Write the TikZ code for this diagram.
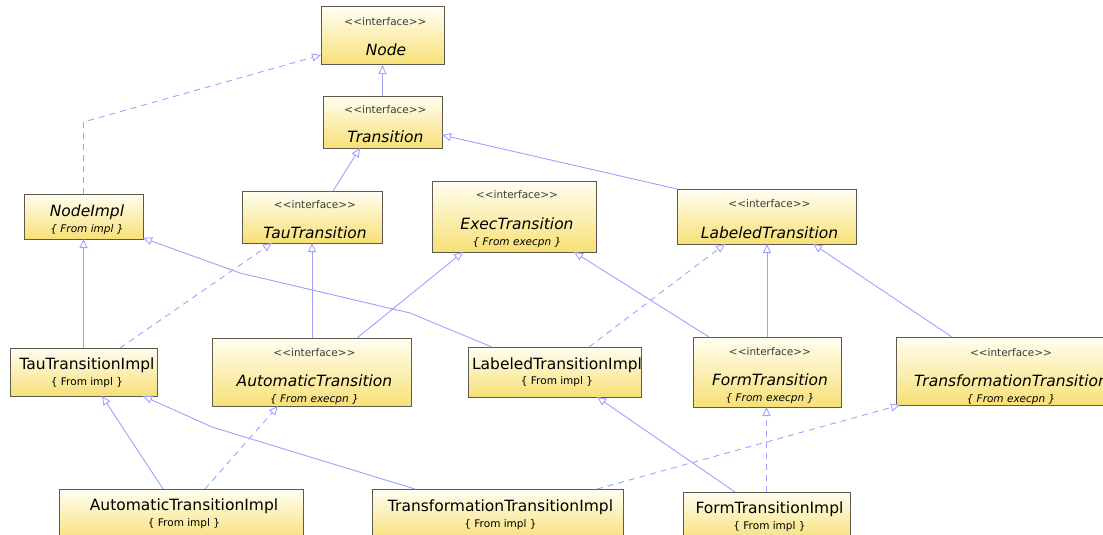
\documentclass[tikz,border=0pt]{standalone}
\usepackage{fontspec}
\setmainfont{DejaVu Sans}
\usetikzlibrary{arrows.meta}

\definecolor{boxtop}{RGB}{255,254,242}
\definecolor{boxbot}{RGB}{247,224,118}
\definecolor{boxline}{RGB}{95,90,80}
\definecolor{edgeblue}{RGB}{160,160,255}
\definecolor{stereogray}{RGB}{60,60,60}

% kerns keep the font mapping from merging the angle brackets into guillemets
\newcommand\stereo{<\kern0pt<interface>\kern0pt>}

\tikzset{
  classbox/.style={draw=boxline, line width=1pt, top color=boxtop, bottom color=boxbot,
                   inner sep=0pt, outer sep=0pt},
  stereotxt/.style={anchor=base, inner sep=0pt, text=stereogray, font=\fontsize{10.5}{12}\selectfont},
  nametxt/.style={anchor=base, inner sep=0pt, font=\fontsize{15.5}{18}\selectfont},
  absname/.style={anchor=base, inner sep=0pt, font=\fontsize{15.5}{18}\selectfont\itshape},
  srctxt/.style={anchor=base, inner sep=0pt, font=\fontsize{10.5}{12}\selectfont},
  abssrc/.style={anchor=base, inner sep=0pt, font=\fontsize{10.5}{12}\selectfont\itshape},
  gen/.style={draw=edgeblue, line width=0.9pt, -{Triangle[length=9pt,width=8pt,fill=white]}},
  real/.style={gen, dash pattern=on 6pt off 5pt},
}

% \umlclass{name}{left}{top}{right}{bottom}
\newcommand\umlclass[5]{%
  \node[classbox, minimum width={(#4-#2)*1pt}, minimum height={(#5-#3)*1pt}]
    (#1) at ({(#2+#4)/2},{(#3+#5)/2}) {};}

\begin{document}
\begin{tikzpicture}[x=1pt, y=-1pt]
\useasboundingbox (0,0) rectangle (1103,535);
\clip (0,0) rectangle (1103,535);

% class boxes
\umlclass{node}{321}{7}{444}{65}
\umlclass{trans}{323}{96}{442}{148}
\umlclass{nodeimpl}{24}{194}{143}{239}
\umlclass{tau}{242}{191}{382}{243}
\umlclass{exec}{432}{181}{596}{252}
\umlclass{lt}{677}{189}{856}{244}
\umlclass{tauimpl}{10}{348}{157}{396}
\umlclass{autot}{212}{338}{411}{406}
\umlclass{lti}{468}{347}{641}{397}
\umlclass{formt}{693}{337}{841}{407}
\umlclass{trt}{896}{337}{1120}{405}
\umlclass{atimpl}{59}{489}{303}{541}
\umlclass{ttimpl}{372}{489}{623}{541}
\umlclass{ftimpl}{683}{492}{850}{541}

% class texts
\node[stereotxt] (node-st) at (385.5,26) {\stereo};
\node[absname]   (node-nm) at (386,56) {Node};

\node[stereotxt] (trans-st) at (385.5,113) {\stereo};
\node[absname]   (trans-nm) at (385.5,142) {Transition};

\node[absname] (nodeimpl-nm) at (87,216) {NodeImpl};
\node[abssrc]  (nodeimpl-sr) at (87,232) {\{ From impl \}};

\node[stereotxt] (tau-st) at (315,208) {\stereo};
\node[absname]   (tau-nm) at (315,238) {TauTransition};

\node[stereotxt] (exec-st) at (517,198) {\stereo};
\node[absname]   (exec-nm) at (517,229) {ExecTransition};
\node[abssrc]    (exec-sr) at (517,245) {\{ From execpn \}};

\node[stereotxt] (lt-st) at (769.5,207) {\stereo};
\node[absname]   (lt-nm) at (769.5,238) {LabeledTransition};

\node[nametxt] (tauimpl-nm) at (87,369) {TauTransitionImpl};
\node[srctxt]  (tauimpl-sr) at (87,385) {\{ From impl \}};

\node[stereotxt] (autot-st) at (314.5,356) {\stereo};
\node[absname]   (autot-nm) at (314.5,386) {AutomaticTransition};
\node[abssrc]    (autot-sr) at (314.5,402) {\{ From execpn \}};

\node[nametxt] (lti-nm) at (557,369) {LabeledTransitionImpl};
\node[srctxt]  (lti-sr) at (557,384) {\{ From impl \}};

\node[stereotxt] (formt-st) at (770,355) {\stereo};
\node[absname]   (formt-nm) at (770,385) {FormTransition};
\node[abssrc]    (formt-sr) at (770,401) {\{ From execpn \}};

\node[stereotxt] (trt-st) at (1011,356) {\stereo};
\node[absname]   (trt-nm) at (1011,386) {TransformationTransition};
\node[abssrc]    (trt-sr) at (1011,402) {\{ From execpn \}};

\node[nametxt] (atimpl-nm) at (184,510) {AutomaticTransitionImpl};
\node[srctxt]  (atimpl-sr) at (184,526) {\{ From impl \}};

\node[nametxt] (ttimpl-nm) at (500.5,511) {TransformationTransitionImpl};
\node[srctxt]  (ttimpl-sr) at (500.5,527) {\{ From impl \}};

\node[nametxt] (ftimpl-nm) at (769.5,513) {FormTransitionImpl};
\node[srctxt]  (ftimpl-sr) at (769.5,529) {\{ From impl \}};

% bend points of routed connectors
\coordinate (nib) at (83.5,122);
\coordinate (ltib1) at (410,313);
\coordinate (ltib2) at (240,273);
\coordinate (ttib) at (212,427);

% generalizations and realizations
\draw[gen] (trans.north) -- (trans.north |- node.south);
\draw[real] (nodeimpl.north) -- (nib) -- ([yshift=-19pt]node.west);
\draw[gen] ([xshift=91pt]tau.north west) -- ([xshift=37pt]trans.south west);
\draw[gen] (lt.north west) -- ([yshift=-13pt]trans.east);
\draw[gen] (tauimpl.north -| nodeimpl.south) -- (nodeimpl.south);
\draw[real] ([xshift=110pt]tauimpl.north west) -- ([xshift=30pt]tau.south west);
\draw[gen] (autot.north -| tau.south) -- (tau.south);
\draw[gen] ([xshift=145pt]autot.north west) -- ([xshift=31pt]exec.south west);
\draw[gen] ([xshift=24pt]lti.north west) -- (ltib1) -- (ltib2) -- ([yshift=1pt]nodeimpl.south east);
\draw[real] ([xshift=121pt]lti.north west) -- ([xshift=48pt]lt.south west);
\draw[gen] ([xshift=16pt]formt.north west) -- ([xshift=142pt]exec.south west);
\draw[gen] (formt.north) -- (formt.north |- lt.south);
\draw[gen] ([xshift=56pt]trt.north west) -- ([xshift=136pt]lt.south west);
\draw[gen] ([xshift=104pt]atimpl.north west) -- ([xshift=92pt]tauimpl.south west);
\draw[real] ([xshift=146pt]atimpl.north west) -- ([xshift=66pt]autot.south west);
\draw[gen] ([xshift=43pt]ttimpl.north west) -- (ttib) -- ([xshift=133pt]tauimpl.south west);
\draw[real] ([xshift=225pt]ttimpl.north west) -- ([xshift=4pt]trt.south west);
\draw[gen] ([xshift=52pt]ftimpl.north west) -- ([xshift=129pt]lti.south west);
\draw[real] (ftimpl.north) -- (ftimpl.north |- formt.south);
\end{tikzpicture}
\end{document}
